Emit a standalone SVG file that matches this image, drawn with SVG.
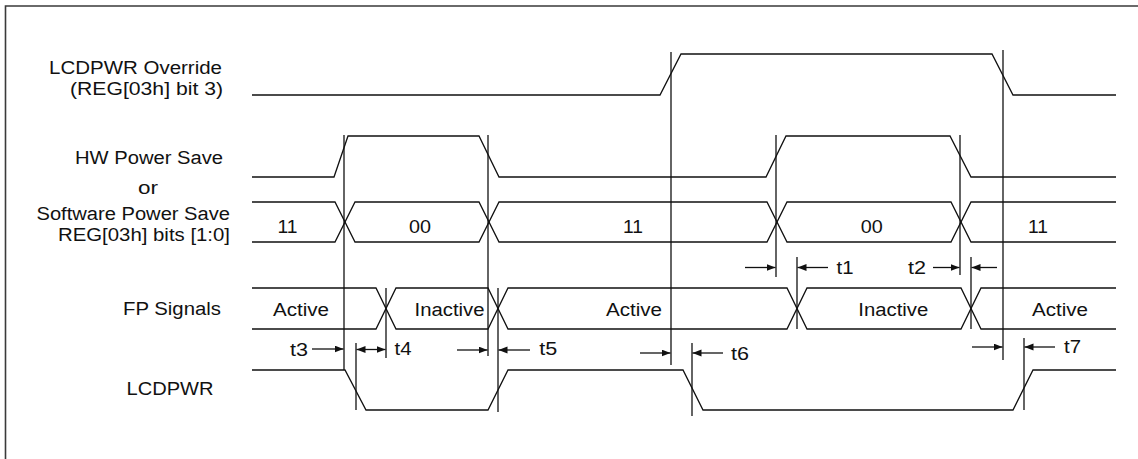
<svg xmlns="http://www.w3.org/2000/svg" width="1138" height="459" viewBox="0 0 1138 459">
  <style>
    .bg { fill: #ffffff; }
    .frame { fill: none; stroke: #3a3a3a; stroke-width: 1.6; }
    .sig { fill: none; stroke: #111111; stroke-width: 1.3; stroke-linejoin: miter; }
    .ref { fill: none; stroke: #111111; stroke-width: 1.3; }
    .arr { fill: none; stroke: #111111; stroke-width: 1.3; marker-end: url(#ah); }
    .dbl { fill: none; stroke: #111111; stroke-width: 1.3; marker-end: url(#ah); marker-start: url(#ahs); }
    text { font-family: "Liberation Sans", Arial, Helvetica, sans-serif; font-size: 18px; fill: #111111; }
    .mid { text-anchor: middle; }
  </style>
  <defs>
    <marker id="ah" markerUnits="userSpaceOnUse" markerWidth="10" markerHeight="8" refX="9" refY="3.5" orient="auto">
      <path d="M0,0 L9,3.5 L0,7 Z" fill="#111111"/>
    </marker>
    <marker id="ahs" markerUnits="userSpaceOnUse" markerWidth="10" markerHeight="8" refX="9" refY="3.5" orient="auto-start-reverse">
      <path d="M0,0 L9,3.5 L0,7 Z" fill="#111111"/>
    </marker>
  </defs>
  <rect class="bg" x="0" y="0" width="1138" height="459"/>
  <path class="frame" d="M5.5,459 V6 H1138"/>

  <g id="sig-override">
    <text x="49" y="74" textLength="173" lengthAdjust="spacingAndGlyphs">LCDPWR Override</text>
    <text x="70" y="95" textLength="153" lengthAdjust="spacingAndGlyphs">(REG[03h] bit 3)</text>
    <polyline class="sig" points="252,95 660,95 681,54 992,54 1013,95 1116,95"/>
  </g>

  <g id="sig-powersave">
    <text x="75" y="164" textLength="148" lengthAdjust="spacingAndGlyphs">HW Power Save</text>
    <text x="138" y="194" textLength="20" lengthAdjust="spacingAndGlyphs">or</text>
    <text x="36.5" y="220" textLength="193.5" lengthAdjust="spacingAndGlyphs">Software Power Save</text>
    <text x="58" y="241" textLength="172" lengthAdjust="spacingAndGlyphs">REG[03h] bits [1:0]</text>
    <polyline class="sig" points="252,177 334,177 348,136 479,136 499,177 766,177 786,136 950,136 971,177 1116,177"/>
    <polyline class="sig" points="252,202 335,202 355,242 479,242 499,202 767,202 787,242 951,242 971,202 1116,202"/>
    <polyline class="sig" points="252,242 335,242 355,202 479,202 499,242 767,242 787,202 951,202 971,242 1116,242"/>
    <text class="mid" x="287.5" y="232.5" textLength="20" lengthAdjust="spacingAndGlyphs">11</text>
    <text class="mid" x="420" y="232.5" textLength="22" lengthAdjust="spacingAndGlyphs">00</text>
    <text class="mid" x="633" y="232.5" textLength="20" lengthAdjust="spacingAndGlyphs">11</text>
    <text class="mid" x="871.7" y="232.5" textLength="22" lengthAdjust="spacingAndGlyphs">00</text>
    <text class="mid" x="1038" y="232.5" textLength="20" lengthAdjust="spacingAndGlyphs">11</text>
  </g>

  <g id="sig-fp">
    <text x="123" y="315" textLength="98" lengthAdjust="spacingAndGlyphs">FP Signals</text>
    <polyline class="sig" points="252,288 376,288 396,329 488,329 508,288 787,288 807,329 961,329 981,288 1116,288"/>
    <polyline class="sig" points="252,329 376,329 396,288 488,288 508,329 787,329 807,288 961,288 981,329 1116,329"/>
    <text class="mid" x="301" y="316" textLength="56" lengthAdjust="spacingAndGlyphs">Active</text>
    <text class="mid" x="449.5" y="316" textLength="70" lengthAdjust="spacingAndGlyphs">Inactive</text>
    <text class="mid" x="634" y="316" textLength="56" lengthAdjust="spacingAndGlyphs">Active</text>
    <text class="mid" x="893.3" y="316" textLength="70" lengthAdjust="spacingAndGlyphs">Inactive</text>
    <text class="mid" x="1060" y="316" textLength="56" lengthAdjust="spacingAndGlyphs">Active</text>
  </g>

  <g id="sig-lcdpwr">
    <text x="126.5" y="395" textLength="87" lengthAdjust="spacingAndGlyphs">LCDPWR</text>
    <polyline class="sig" points="252,370 345,370 366,410 488,410 508,370 683,370 703,410 1013,410 1033,370 1116,370"/>
  </g>

  <g id="connectors">
    <line class="ref" x1="344" y1="135" x2="344" y2="370"/>
    <line class="ref" x1="356" y1="343" x2="356" y2="410"/>
    <line class="ref" x1="386" y1="288" x2="386" y2="358"/>
    <line class="ref" x1="488" y1="135" x2="488" y2="356"/>
    <line class="ref" x1="498" y1="288" x2="498" y2="412"/>
    <line class="ref" x1="671" y1="52" x2="671" y2="365"/>
    <line class="ref" x1="692" y1="343" x2="692" y2="416"/>
    <line class="ref" x1="776" y1="135" x2="776" y2="277"/>
    <line class="ref" x1="797" y1="257" x2="797" y2="329"/>
    <line class="ref" x1="960" y1="135" x2="960" y2="275"/>
    <line class="ref" x1="971" y1="257" x2="971" y2="329"/>
    <line class="ref" x1="1003" y1="50" x2="1003" y2="360"/>
    <line class="ref" x1="1024" y1="338" x2="1024" y2="410"/>

    <line class="arr" x1="312" y1="349" x2="343.5" y2="349"/>
    <line class="dbl" x1="356.5" y1="349.5" x2="385.5" y2="349.5"/>
    <line class="arr" x1="457" y1="350" x2="487.5" y2="350"/>
    <line class="arr" x1="530" y1="350" x2="498.5" y2="350"/>
    <line class="arr" x1="640" y1="353" x2="670.5" y2="353"/>
    <line class="arr" x1="723" y1="353" x2="692.5" y2="353"/>
    <line class="arr" x1="745" y1="267.5" x2="775.5" y2="267.5"/>
    <line class="arr" x1="828" y1="267.5" x2="797.5" y2="267.5"/>
    <line class="arr" x1="933" y1="267.5" x2="959.5" y2="267.5"/>
    <line class="arr" x1="997" y1="267.5" x2="971.5" y2="267.5"/>
    <line class="arr" x1="972" y1="347" x2="1002.5" y2="347"/>
    <line class="arr" x1="1055" y1="347" x2="1024.5" y2="347"/>

    <text class="mid" x="299" y="356" textLength="18" lengthAdjust="spacingAndGlyphs">t3</text>
    <text class="mid" x="403" y="355" textLength="17" lengthAdjust="spacingAndGlyphs">t4</text>
    <text class="mid" x="548.3" y="355" textLength="18" lengthAdjust="spacingAndGlyphs">t5</text>
    <text class="mid" x="740" y="360" textLength="18" lengthAdjust="spacingAndGlyphs">t6</text>
    <text class="mid" x="845" y="273.5" textLength="17" lengthAdjust="spacingAndGlyphs">t1</text>
    <text class="mid" x="917" y="273.5" textLength="18" lengthAdjust="spacingAndGlyphs">t2</text>
    <text class="mid" x="1072.5" y="353" textLength="17" lengthAdjust="spacingAndGlyphs">t7</text>
  </g>
</svg>
